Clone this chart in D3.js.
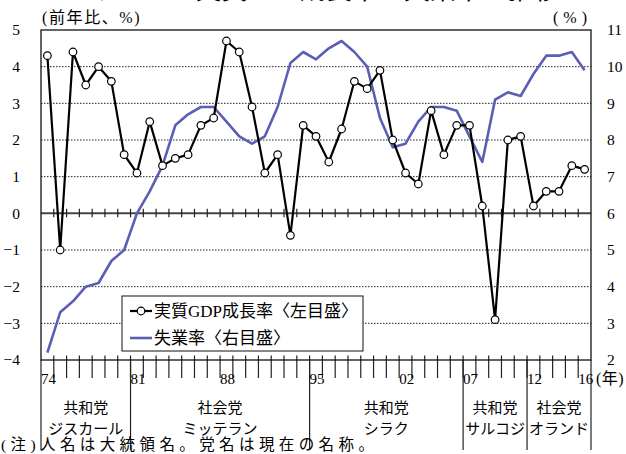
<!DOCTYPE html>
<html>
<head>
<meta charset="utf-8">
<script src="https://cdn.jsdelivr.net/npm/d3@7"></script>
<style>
  html, body { margin: 0; padding: 0; background: #fff; }
  svg { display: block; }
  text { font-family: "Liberation Serif", "Noto Sans CJK JP", serif; fill: #000; }
</style>
</head>
<body>
<svg id="chart" width="626" height="454"></svg>
<script>
// Years 1974–2016
const years = d3.range(1974, 2017);

// Real GDP growth, % y/y (left scale)
const gdpGrowth = [4.3, -1.0, 4.4, 3.5, 4.0, 3.6, 1.6, 1.1, 2.5, 1.3, 1.5, 1.6, 2.4, 2.6,
  4.7, 4.4, 2.9, 1.1, 1.6, -0.6, 2.4, 2.1, 1.4, 2.3, 3.6, 3.4, 3.9, 2.0, 1.1, 0.8,
  2.8, 1.6, 2.4, 2.4, 0.2, -2.9, 2.0, 2.1, 0.2, 0.6, 0.6, 1.3, 1.2];

// Unemployment rate, % (right scale)
const unemployment = [2.2, 3.3, 3.6, 4.0, 4.1, 4.7, 5.0, 6.0, 6.6, 7.3, 8.4, 8.7, 8.9, 8.9,
  8.5, 8.1, 7.9, 8.1, 8.9, 10.1, 10.4, 10.2, 10.5, 10.7, 10.4, 10.0, 8.6, 7.8, 7.9, 8.5,
  8.9, 8.9, 8.8, 8.1, 7.4, 9.1, 9.3, 9.2, 9.8, 10.3, 10.3, 10.4, 9.9];

const leftTicks = [5, 4, 3, 2, 1, 0, -1, -2, -3, -4];
const rightTicks = [11, 10, 9, 8, 7, 6, 5, 4, 3, 2];
const yearLabels = [[1974, "74"], [1981, "81"], [1988, "88"], [1995, "95"], [2002, "02"], [2007, "07"], [2012, "12"], [2016, "16"]];

// Presidential terms: [first year, last year, party, president]
const terms = [
  [1974, 1980, "共和党", "ジスカール"],
  [1981, 1994, "社会党", "ミッテラン"],
  [1995, 2006, "共和党", "シラク"],
  [2007, 2011, "共和党", "サルコジ"],
  [2012, 2016, "社会党", "オランド"]
];

const legendLabels = ["実質GDP成長率〈左目盛〉", "失業率〈右目盛〉"];

const W = 626, H = 454;
const plot = { left: 41, right: 591, top: 30, bottom: 360 };
const blue = "#5b5fb4";

const svg = d3.select("#chart");

const x = d3.scaleBand().domain(years).range([plot.left, plot.right]).padding(0);
const yL = d3.scaleLinear().domain([-4, 5]).range([plot.bottom, plot.top]);
const yR = d3.scaleLinear().domain([2, 11]).range([plot.bottom, plot.top]);
const cx = d => x(d) + x.bandwidth() / 2;

// Title (runs off the top edge)
svg.append("text")
  .attr("x", W / 2).attr("y", -1)
  .attr("text-anchor", "middle")
  .style("font-size", "26px")
  .style("font-family", "'Noto Sans CJK JP', sans-serif")
  .text("フランスの実質GDP成長率と失業率の推移");

// Unit captions
svg.append("text").attr("x", 42).attr("y", 23).style("font-size", "16px")
  .style("letter-spacing", "1.6px").text("(前年比、%)");
svg.append("text").attr("x", 553).attr("y", 23).style("font-size", "16px")
  .style("letter-spacing", "5px").text("(%)");

// Dotted gridlines
svg.append("g").selectAll("line")
  .data(leftTicks.filter(v => v !== 0 && v !== 5 && v !== -4))
  .join("line")
  .attr("x1", plot.left).attr("x2", plot.right)
  .attr("y1", d => yL(d)).attr("y2", d => yL(d))
  .attr("stroke", "#222").attr("stroke-width", 1)
  .attr("stroke-dasharray", "1.5,1.5");

// Left axis labels
const leftAxis = d3.axisLeft(yL).tickValues(leftTicks).tickSize(0).tickPadding(21).tickFormat(d3.format("d"));
const gl = svg.append("g").attr("transform", `translate(${plot.left},0)`).call(leftAxis);
gl.select(".domain").remove();
gl.selectAll("text").style("font-size", "15.5px").style("font-family", "'Liberation Serif', serif");

// Right axis labels
const rightAxis = d3.axisRight(yR).tickValues(rightTicks).tickSize(0).tickPadding(16).tickFormat(d3.format("d"));
const gr = svg.append("g").attr("transform", `translate(${plot.right},0)`).call(rightAxis);
gr.select(".domain").remove();
gr.selectAll("text").style("font-size", "15.5px").style("font-family", "'Liberation Serif', serif");

// Zero line with crossing ticks at each year boundary
svg.append("line")
  .attr("x1", plot.left).attr("x2", plot.right)
  .attr("y1", yL(0)).attr("y2", yL(0))
  .attr("stroke", "#444").attr("stroke-width", 2);
svg.append("g").selectAll("line")
  .data(years.slice(1))
  .join("line")
  .attr("x1", d => x(d)).attr("x2", d => x(d))
  .attr("y1", yL(0) - 4.5).attr("y2", yL(0) + 4)
  .attr("stroke", "#222").attr("stroke-width", 1.2);

// Bottom year ticks
svg.append("g").selectAll("line")
  .data(years.slice(1))
  .join("line")
  .attr("x1", d => x(d)).attr("x2", d => x(d))
  .attr("y1", plot.bottom - 4.5).attr("y2", plot.bottom + 18)
  .attr("stroke", "#222").attr("stroke-width", 1.2);

// Term separators
const bounds = terms.map(t => x(t[0])).concat([plot.right]);
svg.append("g").selectAll("line")
  .data(bounds)
  .join("line")
  .attr("x1", d => d).attr("x2", d => d)
  .attr("y1", plot.bottom).attr("y2", 450)
  .attr("stroke", "#222").attr("stroke-width", 1.2);

// Year labels
svg.append("g").selectAll("text")
  .data(yearLabels)
  .join("text")
  .attr("x", d => x(d[0]))
  .attr("y", 384)
  .style("font-size", "15px")
  .text(d => d[1]);
svg.append("text").attr("x", 596).attr("y", 384).style("font-size", "16px")
  .style("letter-spacing", "0.5px").text("(年)");

// Party / president labels
const tg = svg.append("g").selectAll("g").data(terms).join("g")
  .attr("transform", t => `translate(${(x(t[0]) + x(t[1]) + x.bandwidth()) / 2},0)`);
tg.append("text").attr("y", 413).attr("text-anchor", "middle").style("font-size", "15px").text(t => t[2]);
tg.append("text").attr("y", 434).attr("text-anchor", "middle").style("font-size", "15px").text(t => t[3]);

// Note
svg.append("text").attr("x", 1).attr("y", 450).style("font-size", "15.5px")
  .style("letter-spacing", "4.4px").text("(注)人名は大統領名。党名は現在の名称。");

// Plot frame
svg.append("rect")
  .attr("x", plot.left).attr("y", plot.top)
  .attr("width", plot.right - plot.left).attr("height", plot.bottom - plot.top)
  .attr("fill", "none").attr("stroke", "#111").attr("stroke-width", 1.3);

// Unemployment line
svg.append("path")
  .datum(years.map((yr, i) => [yr, unemployment[i]]))
  .attr("fill", "none").attr("stroke", blue).attr("stroke-width", 2.6)
  .attr("stroke-linejoin", "round")
  .attr("d", d3.line().x(d => cx(d[0])).y(d => yR(d[1])));

// GDP line and markers
const gdpData = years.map((yr, i) => [yr, gdpGrowth[i]]);
svg.append("path")
  .datum(gdpData)
  .attr("fill", "none").attr("stroke", "#000").attr("stroke-width", 2.2)
  .attr("stroke-linejoin", "round")
  .attr("d", d3.line().x(d => cx(d[0])).y(d => yL(d[1])));
svg.append("g").selectAll("circle")
  .data(gdpData)
  .join("circle")
  .attr("cx", d => cx(d[0])).attr("cy", d => yL(d[1]))
  .attr("r", 3.8)
  .attr("fill", "#fff").attr("stroke", "#000").attr("stroke-width", 1.2);

// Legend
const lg = svg.append("g");
lg.append("rect").attr("x", 122).attr("y", 296).attr("width", 241).attr("height", 55)
  .attr("fill", "#fff").attr("stroke", "#111").attr("stroke-width", 1);
lg.append("line").attr("x1", 130).attr("x2", 152).attr("y1", 311).attr("y2", 311)
  .attr("stroke", "#000").attr("stroke-width", 2.2);
lg.append("circle").attr("cx", 141).attr("cy", 311).attr("r", 3.8)
  .attr("fill", "#fff").attr("stroke", "#000").attr("stroke-width", 1.2);
lg.append("line").attr("x1", 130).attr("x2", 152).attr("y1", 338).attr("y2", 338)
  .attr("stroke", blue).attr("stroke-width", 2.6);
lg.append("text").attr("x", 154).attr("y", 317).style("font-size", "17px").text(legendLabels[0]);
lg.append("text").attr("x", 154).attr("y", 344).style("font-size", "17px").text(legendLabels[1]);
</script>
</body>
</html>
